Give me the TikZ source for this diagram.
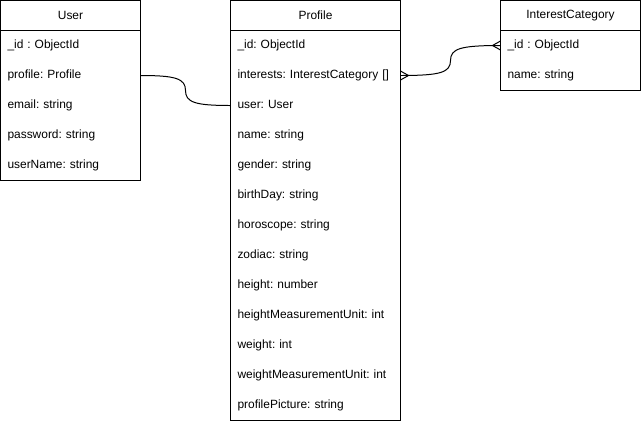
\documentclass[tikz,border=0pt]{standalone}
\usepackage{fontspec}
\setmainfont{Liberation Sans}
\usetikzlibrary{positioning,calc}
\frenchspacing

\begin{document}
\begin{tikzpicture}[x=0.03cm,y=-0.03cm,line width=0.85pt,
    every node/.style={font=\fontsize{10.2}{12}\selectfont,outer sep=0pt},
    head/.style={draw,minimum height=0.9cm,inner sep=0pt,anchor=north west},
    field/.style={minimum height=0.9cm,inner xsep=0.21cm,inner ysep=0pt,
                  align=left,text height=7.6pt,text depth=2.2pt}]

  \useasboundingbox (0,0) rectangle (641,421);

  % ── User ─────────────────────────────────────────────────────────
  \node[head,minimum width=4.2cm] (user) at (0.5,0.5) {User};
  \node[field,text width=3.78cm,below=0pt of user] (uid)   {\_id : ObjectId};
  \node[field,text width=3.78cm,below=0pt of uid]  (uprof) {profile: Profile};
  \node[field,text width=3.78cm,below=0pt of uprof](umail) {email: string};
  \node[field,text width=3.78cm,below=0pt of umail](upass) {password: string};
  \node[field,text width=3.78cm,below=0pt of upass](uname) {userName: string};
  \draw (user.south west) rectangle (uname.south east);

  % ── Profile ──────────────────────────────────────────────────────
  \node[head,minimum width=5.1cm] (profile) at (230.5,0.5) {Profile};
  \node[field,text width=4.68cm,below=0pt of profile](pid)    {\_id: ObjectId};
  \node[field,text width=4.68cm,below=0pt of pid]    (pint)   {interests: InterestCategory []};
  \node[field,text width=4.68cm,below=0pt of pint]   (puser)  {user: User};
  \node[field,text width=4.68cm,below=0pt of puser]  (pname)  {name: string};
  \node[field,text width=4.68cm,below=0pt of pname]  (pgend)  {gender: string};
  \node[field,text width=4.68cm,below=0pt of pgend]  (pbirth) {birthDay: string};
  \node[field,text width=4.68cm,below=0pt of pbirth] (phoro)  {horoscope: string};
  \node[field,text width=4.68cm,below=0pt of phoro]  (pzod)   {zodiac: string};
  \node[field,text width=4.68cm,below=0pt of pzod]   (phgt)   {height: number};
  \node[field,text width=4.68cm,below=0pt of phgt]   (phunit) {heightMeasurementUnit: int};
  \node[field,text width=4.68cm,below=0pt of phunit] (pwgt)   {weight: int};
  \node[field,text width=4.68cm,below=0pt of pwgt]   (pwunit) {weightMeasurementUnit: int};
  \node[field,text width=4.68cm,below=0pt of pwunit] (ppic)   {profilePicture: string};
  \draw (profile.south west) rectangle (ppic.south east);

  % ── InterestCategory ─────────────────────────────────────────────
  \node[head,minimum width=4.2cm] (intcat) at (500.5,0.5) {InterestCategory};
  \node[field,text width=3.78cm,below=0pt of intcat](iid)   {\_id : ObjectId};
  \node[field,text width=3.78cm,below=0pt of iid]   (iname) {name: string};
  \draw (intcat.south west) rectangle (iname.south east);

  % User.profile -- Profile.user
  \coordinate (m1) at ($(uprof.east)!0.5!(puser.west)$);
  \draw (uprof.east) .. controls +(35,0) and +(0,-12) .. (m1)
                     .. controls +(0,12) and +(-35,0) .. (puser.west);

  % Profile.interests >--< InterestCategory._id
  \coordinate (m2) at ($(pint.east)!0.5!(iid.west)$);
  \draw (pint.east) .. controls +(40,0) and +(0,12) .. (m2)
                    .. controls +(0,-12) and +(-40,0) .. (iid.west);
  \draw (pint.east) ++(0,-4.5) -- ++(8,4.5) -- ++(-8,4.5);
  \draw (iid.west) ++(0,-4.5) -- ++(-8,4.5) -- ++(8,4.5);

\end{tikzpicture}
\end{document}
